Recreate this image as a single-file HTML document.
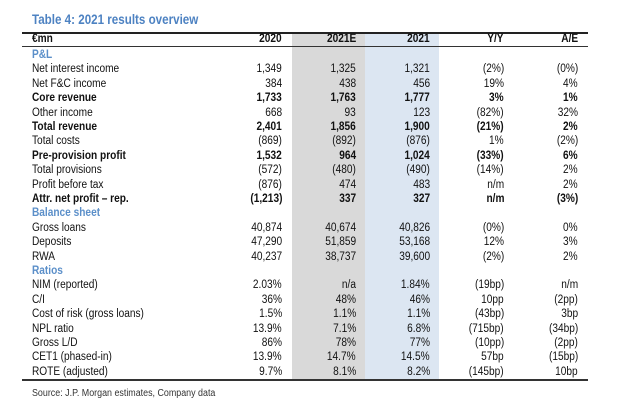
<!DOCTYPE html>
<html>
<head>
<meta charset="utf-8">
<style>
  html,body{margin:0;padding:0;background:#fff;}
  body{width:630px;height:411px;position:relative;overflow:hidden;font-family:"Liberation Sans",Arial,sans-serif;color:#111;}
  .title{position:absolute;left:32px;top:11px;font-size:13.5px;font-weight:bold;color:#4d82c2;white-space:nowrap;transform:scaleX(0.86);transform-origin:left center;line-height:17px;}
  .gray{position:absolute;left:292px;top:33px;width:73px;height:346px;background:#d9d9d9;}
  .blue{position:absolute;left:365px;top:33px;width:74px;height:346px;background:#dce6f2;}
  .line{position:absolute;left:22px;width:566px;background:#222;}
  .r{position:absolute;left:0;width:630px;height:14.4px;line-height:14.4px;font-size:11.5px;white-space:nowrap;}
  .r span{position:absolute;transform:scaleX(0.88);transform-origin:right center;}
  .r span.l{left:32px;transform-origin:left center;}
  .c1{right:348px;}
  .c2{right:274px;}
  .c3{right:200px;}
  .c4{right:126px;}
  .c5{right:52px;}
  .b{font-weight:bold;}
  .sec{font-weight:bold;color:#5b8fc9;}
  .src{position:absolute;left:32px;top:388px;font-size:10px;color:#333;white-space:nowrap;line-height:12px;transform:scaleX(0.89);transform-origin:left center;}
</style>
</head>
<body>
<div class="title">Table 4: 2021 results overview</div>
<div class="gray"></div>
<div class="blue"></div>
<div class="line" style="top:32px;height:2px;"></div>
<div class="line" style="top:45.5px;height:1.5px;background:#333;"></div>
<div class="line" style="top:378.5px;height:2px;background:#333;"></div>

<div class="r b" style="top:33px;height:13px;line-height:13px;"><span class="l">€mn</span><span class="c1">2020</span><span class="c2">2021E</span><span class="c3">2021</span><span class="c4">Y/Y</span><span class="c5">A/E</span></div>

<div class="r sec" style="top:48px;"><span class="l">P&amp;L</span></div>
<div class="r" style="top:62.4px;"><span class="l">Net interest income</span><span class="c1">1,349</span><span class="c2">1,325</span><span class="c3">1,321</span><span class="c4">(2%)</span><span class="c5">(0%)</span></div>
<div class="r" style="top:76.8px;"><span class="l">Net F&amp;C income</span><span class="c1">384</span><span class="c2">438</span><span class="c3">456</span><span class="c4">19%</span><span class="c5">4%</span></div>
<div class="r b" style="top:91.2px;"><span class="l">Core revenue</span><span class="c1">1,733</span><span class="c2">1,763</span><span class="c3">1,777</span><span class="c4">3%</span><span class="c5">1%</span></div>
<div class="r" style="top:105.6px;"><span class="l">Other income</span><span class="c1">668</span><span class="c2">93</span><span class="c3">123</span><span class="c4">(82%)</span><span class="c5">32%</span></div>
<div class="r b" style="top:120px;"><span class="l">Total revenue</span><span class="c1">2,401</span><span class="c2">1,856</span><span class="c3">1,900</span><span class="c4">(21%)</span><span class="c5">2%</span></div>
<div class="r" style="top:134.4px;"><span class="l">Total costs</span><span class="c1">(869)</span><span class="c2">(892)</span><span class="c3">(876)</span><span class="c4">1%</span><span class="c5">(2%)</span></div>
<div class="r b" style="top:148.8px;"><span class="l">Pre-provision profit</span><span class="c1">1,532</span><span class="c2">964</span><span class="c3">1,024</span><span class="c4">(33%)</span><span class="c5">6%</span></div>
<div class="r" style="top:163.2px;"><span class="l">Total provisions</span><span class="c1">(572)</span><span class="c2">(480)</span><span class="c3">(490)</span><span class="c4">(14%)</span><span class="c5">2%</span></div>
<div class="r" style="top:177.6px;"><span class="l">Profit before tax</span><span class="c1">(876)</span><span class="c2">474</span><span class="c3">483</span><span class="c4">n/m</span><span class="c5">2%</span></div>
<div class="r b" style="top:192px;"><span class="l">Attr. net profit – rep.</span><span class="c1">(1,213)</span><span class="c2">337</span><span class="c3">327</span><span class="c4">n/m</span><span class="c5">(3%)</span></div>

<div class="r sec" style="top:206.4px;"><span class="l">Balance sheet</span></div>
<div class="r" style="top:220.8px;"><span class="l">Gross loans</span><span class="c1">40,874</span><span class="c2">40,674</span><span class="c3">40,826</span><span class="c4">(0%)</span><span class="c5">0%</span></div>
<div class="r" style="top:235.2px;"><span class="l">Deposits</span><span class="c1">47,290</span><span class="c2">51,859</span><span class="c3">53,168</span><span class="c4">12%</span><span class="c5">3%</span></div>
<div class="r" style="top:249.6px;"><span class="l">RWA</span><span class="c1">40,237</span><span class="c2">38,737</span><span class="c3">39,600</span><span class="c4">(2%)</span><span class="c5">2%</span></div>

<div class="r sec" style="top:264px;"><span class="l">Ratios</span></div>
<div class="r" style="top:278.4px;"><span class="l">NIM (reported)</span><span class="c1">2.03%</span><span class="c2">n/a</span><span class="c3">1.84%</span><span class="c4">(19bp)</span><span class="c5">n/m</span></div>
<div class="r" style="top:292.8px;"><span class="l">C/I</span><span class="c1">36%</span><span class="c2">48%</span><span class="c3">46%</span><span class="c4">10pp</span><span class="c5">(2pp)</span></div>
<div class="r" style="top:307.2px;"><span class="l">Cost of risk (gross loans)</span><span class="c1">1.5%</span><span class="c2">1.1%</span><span class="c3">1.1%</span><span class="c4">(43bp)</span><span class="c5">3bp</span></div>
<div class="r" style="top:321.6px;"><span class="l">NPL ratio</span><span class="c1">13.9%</span><span class="c2">7.1%</span><span class="c3">6.8%</span><span class="c4">(715bp)</span><span class="c5">(34bp)</span></div>
<div class="r" style="top:336px;"><span class="l">Gross L/D</span><span class="c1">86%</span><span class="c2">78%</span><span class="c3">77%</span><span class="c4">(10pp)</span><span class="c5">(2pp)</span></div>
<div class="r" style="top:350.4px;"><span class="l">CET1 (phased-in)</span><span class="c1">13.9%</span><span class="c2">14.7%</span><span class="c3">14.5%</span><span class="c4">57bp</span><span class="c5">(15bp)</span></div>
<div class="r" style="top:364.8px;"><span class="l">ROTE (adjusted)</span><span class="c1">9.7%</span><span class="c2">8.1%</span><span class="c3">8.2%</span><span class="c4">(145bp)</span><span class="c5">10bp</span></div>

<div class="src">Source: J.P. Morgan estimates, Company data</div>
</body>
</html>
